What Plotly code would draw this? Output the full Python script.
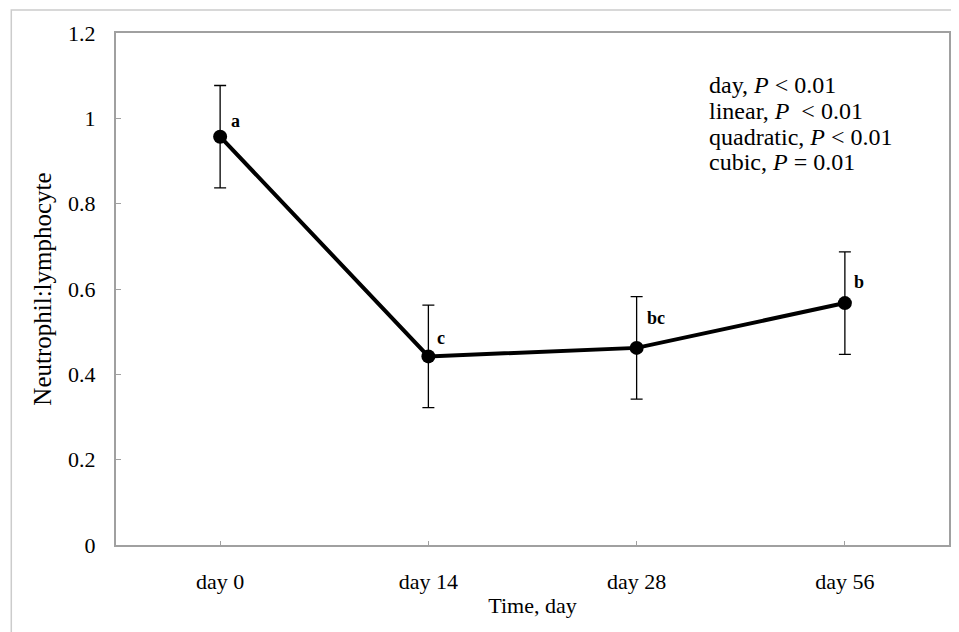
import plotly.graph_objects as go

days = ["day 0", "day 14", "day 28", "day 56"]
ratio = [0.957, 0.442, 0.462, 0.567]
se = [0.12, 0.12, 0.12, 0.12]
letters = ["a", "c", "bc", "b"]
y_ticks = [0, 0.2, 0.4, 0.6, 0.8, 1.0, 1.2]
y_tick_text = ["0", "0.2", "0.4", "0.6", "0.8", "1", "1.2"]
stats_lines = ["day, <i>P</i> &lt; 0.01", "linear, <i>P</i>&#160; &lt; 0.01",
               "quadratic, <i>P</i> &lt; 0.01", "cubic, <i>P</i> = 0.01"]

# label pixel offsets (style only)
label_dx = [9, 7, 8, 7]
label_dy = [16, 18, 30, 21]
stats_y = [0.898, 0.848, 0.796, 0.748]

serif = "Liberation Serif, Times New Roman, serif"

fig = go.Figure()
fig.add_trace(go.Scatter(
    x=days, y=ratio, mode="lines+markers",
    line=dict(color="black", width=4),
    marker=dict(color="black", size=14),
    error_y=dict(type="data", array=se, visible=True, color="black",
                 thickness=1.3, width=6),
    showlegend=False,
))

for d, v, t, dx, dy in zip(days, ratio, letters, label_dx, label_dy):
    fig.add_annotation(x=d, y=v, text="<b>" + t + "</b>", showarrow=False,
                       xanchor="left", yanchor="middle", xshift=dx, yshift=dy,
                       font=dict(family=serif, size=18, color="black"))

for line, yp in zip(stats_lines, stats_y):
    fig.add_annotation(xref="paper", yref="paper", x=0.709, y=yp,
                       xanchor="left", yanchor="middle", align="left",
                       text=line, showarrow=False,
                       font=dict(family=serif, size=24, color="black"))

fig.add_shape(type="rect", xref="paper", yref="paper",
              x0=-0.1257, x1=1.0084, y0=-0.19, y1=1.0449,
              line=dict(color="#cccccc", width=1.5), layer="below")

fig.update_layout(
    width=951, height=624,
    margin=dict(l=108, r=8, t=25, b=87),
    paper_bgcolor="white", plot_bgcolor="white",
    font=dict(family=serif, size=22, color="black"),
    xaxis=dict(
        type="category", range=[-0.5, 3.5],
        showline=True, linecolor="#a0a0a0", linewidth=2, mirror=True,
        ticks="inside", ticklen=4, tickcolor="#a0a0a0",
        showgrid=False, zeroline=False,
        ticklabelstandoff=16,
        title=dict(text="Time, day", font=dict(family=serif, size=22), standoff=4),
        tickfont=dict(family=serif, size=22),
    ),
    yaxis=dict(
        range=[0, 1.2], tickvals=y_ticks, ticktext=y_tick_text,
        showline=True, linecolor="#a0a0a0", linewidth=2, mirror=True,
        ticks="inside", ticklen=5, tickcolor="#a0a0a0",
        showgrid=False, zeroline=False,
        ticklabelstandoff=14,
        title=dict(text="Neutrophil:lymphocyte", font=dict(family=serif, size=25), standoff=9),
        tickfont=dict(family=serif, size=22),
    ),
)

fig.write_html("out.html")
